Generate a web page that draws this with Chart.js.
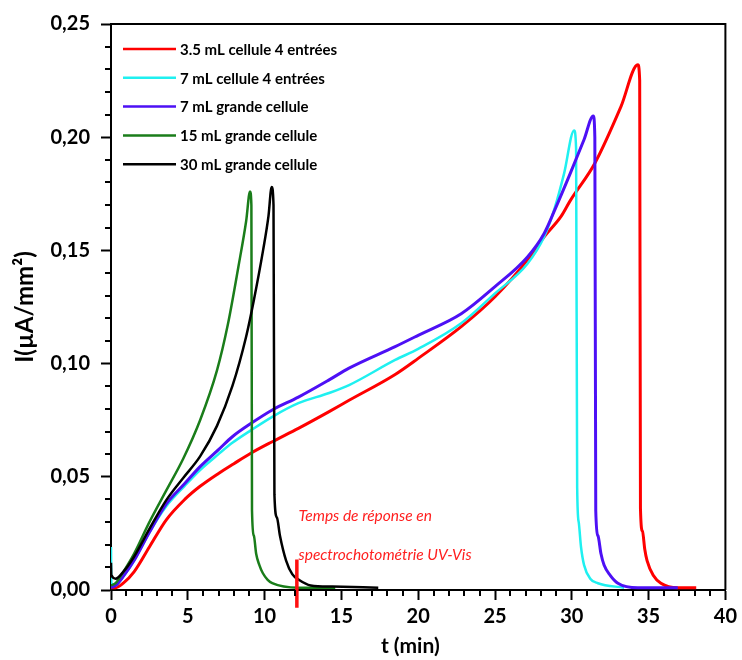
<!DOCTYPE html>
<html lang="fr">
<head>
<meta charset="UTF-8" />
<title>Courant en fonction du temps</title>
<script src="https://cdn.jsdelivr.net/npm/chart.js@4"></script>
<style>
	html, body {
		margin: 0;
		padding: 0;
		background: #ffffff;
	}

	.wrap {
		position: relative;
		width: 742px;
		height: 660px;
	}
</style>
</head>
<body>
<div class="wrap">
	<canvas id="chart" width="742" height="660"></canvas>
</div>

<script>
// Series (t in min, I in µA/mm²)
const redT = [0, 0.3, 0.8, 1.5, 2.5, 3.6, 4.8, 5.8, 7, 8, 9.1, 10.5, 12.2, 14.2, 15.5, 18.5, 20, 22.8, 25, 27.1, 28.2, 29.3, 29.9, 31.5, 33.2, 34.3, 34.42, 34.47, 34.6, 34.75, 34.9, 35.3, 35.8, 36.9, 38.1];
const redI = [0.001, 0.001, 0.003, 0.008, 0.019, 0.031, 0.040, 0.0458, 0.0515, 0.0558, 0.0604, 0.0655, 0.0714, 0.0788, 0.0838, 0.0952, 0.1023, 0.1163, 0.1295, 0.1457, 0.156, 0.165, 0.172, 0.1885, 0.2135, 0.232, 0.225, 0.036, 0.026, 0.018, 0.013, 0.0065, 0.003, 0.001, 0.001];

const cyanT = [0, 0.02, 0.3, 0.8, 1.5, 2.5, 3.6, 4.8, 5.8, 7, 7.9, 9.1, 10.5, 12.2, 14.2, 15.5, 18.5, 20, 22.8, 25, 27.1, 28.2, 28.9, 29.5, 30.15, 30.28, 30.35, 30.45, 30.6, 30.8, 31.2, 31.7, 33.4];
const cyanI = [0.019, 0.003, 0.002, 0.006, 0.013, 0.0255, 0.037, 0.046, 0.053, 0.06, 0.065, 0.0705, 0.0765, 0.0825, 0.087, 0.0905, 0.1016, 0.1065, 0.1178, 0.131, 0.144, 0.156, 0.169, 0.184, 0.203, 0.195, 0.045, 0.03, 0.019, 0.011, 0.005, 0.003, 0.001];

const purpleT = [0, 0.3, 0.8, 1.5, 2.5, 3.6, 4.8, 5.8, 7, 7.9, 9.1, 10.5, 12.2, 14.2, 15.5, 18.5, 20, 22.8, 25, 27.1, 28.2, 28.9, 29.9, 30.8, 31.4, 31.5, 31.56, 31.7, 31.9, 32.1, 32.5, 33, 34.3, 36.9];
const purpleI = [0.001, 0.002, 0.006, 0.013, 0.0255, 0.038, 0.047, 0.0545, 0.062, 0.0677, 0.0735, 0.0795, 0.0852, 0.0928, 0.098, 0.1075, 0.1125, 0.122, 0.134, 0.147, 0.1575, 0.168, 0.184, 0.199, 0.2094, 0.2, 0.035, 0.024, 0.016, 0.011, 0.0065, 0.003, 0.001, 0.001];

const greenT = [0, 0.3, 0.8, 1.5, 2.5, 3.6, 4.7, 5.8, 6.9, 7.6, 8.3, 8.8, 9.05, 9.14, 9.18, 9.3, 9.45, 9.66, 9.88, 10.2, 10.5, 12.2, 14.6];
const greenI = [0.002, 0.003, 0.008, 0.016, 0.030, 0.044, 0.058, 0.075, 0.097, 0.117, 0.143, 0.163, 0.176, 0.17, 0.035, 0.024, 0.016, 0.011, 0.0075, 0.0045, 0.003, 0.001, 0.001];

const blackT = [0, 0.02, 0.3, 0.8, 1.5, 2.5, 3.6, 4.7, 5.8, 6.9, 7.9, 8.8, 9.3, 9.9, 10.25, 10.46, 10.58, 10.64, 10.8, 11, 11.4, 11.8, 12.25, 13, 14.4, 17.4];
const blackI = [0.012, 0.0066, 0.005, 0.008, 0.0147, 0.027, 0.0397, 0.0495, 0.059, 0.0725, 0.09, 0.112, 0.128, 0.150, 0.165, 0.178, 0.17, 0.042, 0.032, 0.024, 0.013, 0.007, 0.0044, 0.002, 0.0015, 0.001];

const seriesLabels = ['3.5 mL cellule 4 entrées', '7 mL cellule 4 entrées', '7 mL grande cellule', '15 mL grande cellule', '30 mL grande cellule'];
const seriesColors = ['#ff0000', '#1ff0f0', '#4d10f5', '#1a7d1a', '#000000'];
const seriesWidths = [3, 2.5, 3, 2.5, 2.5];

// response-time marker
const markerT = [12.1, 12.1];
const markerI = [0.0135, -0.0078];
const noteLines = ['Temps de réponse en', 'spectrochotométrie UV-Vis'];
const noteT = 8.3;
const noteI = [0.0335, 0.0165];

const xTicks = [0, 5, 10, 15, 20, 25, 30, 35, 40];
const yTicks = [0, 0.05, 0.10, 0.15, 0.20, 0.25];

const toPoints = (ts, is) => ts.map((t, i) => ({ x: t, y: is[i] }));

const seriesPoints = [
	toPoints(redT, redI),
	toPoints(cyanT, cyanI),
	toPoints(purpleT, purpleI),
	toPoints(greenT, greenI),
	toPoints(blackT, blackI),
];

const FONT = 'Lato, "Open Sans", sans-serif';

const datasets = seriesPoints.map((points, i) => ({
	label: seriesLabels[i],
	data: points,
	borderColor: seriesColors[i],
	backgroundColor: seriesColors[i],
	borderWidth: seriesWidths[i],
	pointRadius: 0,
	cubicInterpolationMode: 'monotone',
	fill: false,
}));

// draw order: red below, then cyan, purple on top of them
datasets.forEach((ds, i) => { ds.order = 5 - i; });

datasets.push({
	label: 'marker',
	data: toPoints(markerT, markerI),
	borderColor: '#ff1010',
	borderWidth: 3.5,
	pointRadius: 0,
	clip: false,
	order: 0,
});

const framePlugin = {
	id: 'frame',
	afterDraw(chart) {
		const { ctx, chartArea: area, scales: { x, y } } = chart;
		ctx.save();
		ctx.strokeStyle = '#000';
		ctx.lineWidth = 2;
		ctx.beginPath();
		ctx.moveTo(area.left, area.top);
		ctx.lineTo(area.right, area.top);
		ctx.lineTo(area.right, area.bottom);
		ctx.stroke();

		// minor ticks
		ctx.beginPath();
		for (let t = 1; t < 40; t++) {
			if (t % 5 === 0) continue;
			const px = Math.round(x.getPixelForValue(t));
			ctx.moveTo(px, area.bottom);
			ctx.lineTo(px, area.bottom + 6);
		}
		for (let k = 1; k < 25; k++) {
			if (k % 5 === 0) continue;
			const py = Math.round(y.getPixelForValue(k / 100));
			ctx.moveTo(area.left, py);
			ctx.lineTo(area.left - 6, py);
		}
		ctx.stroke();

		// legend inside the plot
		ctx.font = 'bold 15px ' + FONT;
		ctx.textBaseline = 'middle';
		seriesLabels.forEach((label, i) => {
			const ly = 49 + i * 28.8;
			ctx.strokeStyle = seriesColors[i];
			ctx.lineWidth = 2.5;
			ctx.beginPath();
			ctx.moveTo(area.left + 12, ly);
			ctx.lineTo(area.left + 65, ly);
			ctx.stroke();
			ctx.fillStyle = '#000';
			ctx.fillText(label, area.left + 69, ly + 1);
		});

		// annotation
		ctx.font = 'italic 15.5px ' + FONT;
		ctx.fillStyle = '#ff2020';
		noteLines.forEach((line, i) => {
			ctx.fillText(line, x.getPixelForValue(noteT) + 60, y.getPixelForValue(noteI[i]) + 2);
		});
		ctx.restore();
	},
};

new Chart(document.getElementById('chart'), {
	type: 'line',
	data: { datasets },
	options: {
		responsive: false,
		animation: false,
		layout: { padding: { top: 24, right: 14, left: 0, bottom: 0 } },
		plugins: {
			legend: { display: false },
			tooltip: { enabled: false },
		},
		scales: {
			x: {
				type: 'linear',
				min: 0,
				max: 40,
				afterFit(scale) { scale.height = 70; },
				afterBuildTicks(scale) { scale.ticks = xTicks.map((v) => ({ value: v })); },
				ticks: {
					font: { family: FONT, size: 20, weight: 'bold' },
					color: '#000',
					padding: 5,
					maxRotation: 0,
				},
				grid: {
					drawOnChartArea: false,
					tickLength: 10,
					tickWidth: 2,
					tickColor: '#000',
				},
				border: { display: true, color: '#000', width: 2 },
				title: {
					display: true,
					text: 't (min)\u2003',
					font: { family: FONT, size: 21, weight: 'bold' },
					color: '#000',
					padding: { top: 0, bottom: 1 },
				},
			},
			y: {
				type: 'linear',
				min: 0,
				max: 0.25,
				afterFit(scale) { scale.width = 111; },
				afterBuildTicks(scale) { scale.ticks = yTicks.map((v) => ({ value: v })); },
				ticks: {
					font: { family: FONT, size: 20, weight: 'bold' },
					color: '#000',
					padding: 11,
					callback: (v) => Number(v).toFixed(2).replace('.', ','),
				},
				grid: {
					drawOnChartArea: false,
					tickLength: 10,
					tickWidth: 2,
					tickColor: '#000',
				},
				border: { display: true, color: '#000', width: 2 },
				title: {
					display: true,
					text: 'I(µA/mm²)',
					font: { family: FONT, size: 24, weight: 'bold' },
					color: '#000',
					padding: { top: 11, bottom: 0 },
				},
			},
		},
	},
	plugins: [framePlugin],
});
</script>
</body>
</html>
